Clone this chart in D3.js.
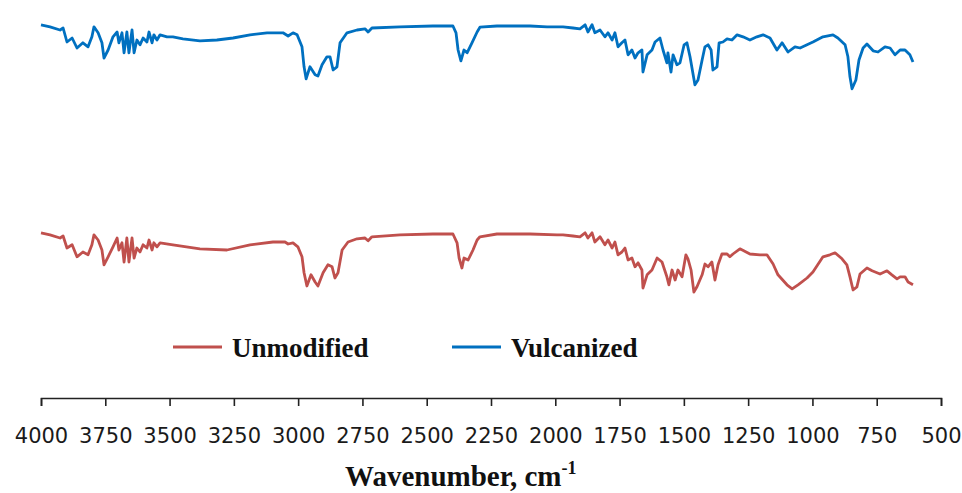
<!DOCTYPE html>
<html>
<head>
<meta charset="utf-8">
<script src="https://cdn.jsdelivr.net/npm/d3@7"></script>
<style>
  body { margin: 0; background: #fff; }
  svg { display: block; }
</style>
</head>
<body>
<div id="chart"></div>
<script>
// FTIR spectra, wavenumber (cm-1) vs transmittance (arbitrary units, offset)
var tickValues = [4000, 3750, 3500, 3250, 3000, 2750, 2500, 2250, 2000, 1750, 1500, 1250, 1000, 750, 500];
var seriesNames = ["Unmodified", "Vulcanized"];
var seriesColors = ["#c0504d", "#0070c0"];

var vulcanized = [
  [4000,93.8],[3965,93.3],[3926,92.5],[3914,93],[3899,89.5],[3879,90.5],[3860,88],[3837,89.3],[3817,88.3],
  [3802,90.8],[3794,93.3],[3778,91.8],[3763,89.3],[3755,85.5],[3739,87.5],[3720,90.8],[3704,92],[3697,89.3],
  [3685,91.8],[3677,86.8],[3666,92],[3658,86.8],[3646,92.5],[3638,86.8],[3627,90],[3615,88.8],[3603,90.5],
  [3588,89.5],[3580,92],[3568,89.3],[3561,91.3],[3549,90],[3537,91.3],[3510,90.8],[3487,90.8],[3448,90.3],
  [3382,89.8],[3316,90],[3253,90.5],[3187,91.3],[3121,91.8],[3059,91.8],[3039,91],[3020,91.8],[3004,91.3],
  [2985,88.3],[2977,83.3],[2969,80.3],[2954,83.3],[2934,81.3],[2923,81],[2907,83.8],[2888,85.8],[2876,85.8],
  [2864,82.5],[2849,83.3],[2837,89.3],[2810,91.8],[2771,92.5],[2740,92.8],[2728,92],[2713,93],[2604,93.3],
  [2476,93.5],[2398,93.5],[2386,91.8],[2378,87.5],[2367,84.8],[2355,87.5],[2343,86.8],[2324,89.3],[2304,92],
  [2293,93.2],[2227,93.5],[2098,93.5],[2032,93.3],[1970,93.3],[1931,93],[1904,92.8],[1884,93.8],[1873,92],
  [1857,93.8],[1846,91.8],[1826,92.5],[1807,90.8],[1795,91.8],[1779,90],[1768,91.8],[1756,88.3],[1741,89.3],
  [1729,90],[1717,86.3],[1702,87.5],[1690,85.5],[1678,86.8],[1663,87.5],[1659,82],[1643,86.3],[1624,87.5],
  [1612,89.5],[1593,90.5],[1581,87.5],[1566,84.3],[1562,86.8],[1550,82],[1542,86.3],[1527,83.8],[1515,84.3],
  [1499,88.8],[1488,89.3],[1476,85.8],[1457,78.8],[1445,80],[1429,85],[1418,88.3],[1406,88.8],[1394,87.5],
  [1387,82.5],[1371,83.3],[1363,89.3],[1348,89.5],[1332,90.3],[1313,90],[1293,91.3],[1270,90.8],[1243,90],
  [1216,90.8],[1192,91.3],[1165,90.5],[1138,87.5],[1118,89.3],[1095,87],[1068,88.3],[1048,88],[1021,88.8],
  [998,89.5],[959,90.8],[920,91.3],[901,90.5],[873,88.8],[862,85.8],[854,80.8],[846,77.8],[831,80],[819,85],
  [803,88],[788,89],[764,87.3],[745,87],[718,88.3],[698,88],[679,86.3],[659,87.5],[640,87.5],[621,86.3],[609,84.5]
];

var unmodified = [
  [4000,41.8],[3965,41.3],[3926,40.5],[3914,41],[3899,38],[3879,38.8],[3860,35.8],[3837,37],[3817,36.3],
  [3802,38.8],[3794,41.3],[3778,40],[3763,37.5],[3755,33.8],[3739,35.8],[3720,38.3],[3704,40.5],[3697,37.5],
  [3685,39.3],[3677,34.5],[3666,40.5],[3658,34.5],[3646,40.5],[3638,35.5],[3627,38],[3615,37],[3603,38.8],
  [3588,38],[3580,40],[3568,37.5],[3561,39.3],[3549,38.3],[3537,39.3],[3487,38.8],[3382,37.8],[3277,37.5],
  [3187,38.8],[3098,39.5],[3051,39.5],[3039,39],[3020,39.3],[3001,38.3],[2985,35.8],[2977,31.8],[2966,28.5],
  [2950,31.3],[2934,29.5],[2923,28.5],[2903,31.8],[2884,33.8],[2868,33.3],[2857,30.5],[2845,31.8],[2829,37.5],
  [2806,39.5],[2771,40.3],[2740,40.5],[2728,39.8],[2713,40.8],[2604,41.3],[2476,41.5],[2398,41.5],[2382,39.3],
  [2374,35.5],[2363,33],[2355,35.5],[2339,35],[2320,37.5],[2304,40],[2293,40.8],[2227,41.5],[2098,41.5],
  [1993,41.3],[1970,41.3],[1931,41],[1904,40.8],[1884,41.8],[1873,40.5],[1857,41.8],[1846,39.5],[1826,40.8],
  [1807,38.8],[1795,40],[1779,38],[1768,39.5],[1756,36.3],[1741,37],[1729,38],[1717,35],[1702,35.5],
  [1690,33.3],[1678,34.3],[1663,32.5],[1659,28],[1643,31.3],[1624,32.5],[1604,35.5],[1585,34.5],[1566,30.8],
  [1558,28.8],[1546,32.5],[1534,30],[1523,32.5],[1507,30.8],[1492,36.3],[1484,35.3],[1472,32.5],[1461,27],
  [1449,28.3],[1429,31.3],[1418,34],[1406,33.3],[1391,34.5],[1379,30],[1367,33.8],[1352,36.5],[1332,36.5],
  [1321,35.8],[1309,36.5],[1282,37.8],[1243,36.5],[1204,36.3],[1177,36.3],[1153,34],[1134,31.3],[1099,28.8],
  [1079,27.8],[1056,28.8],[1021,30.5],[998,32],[959,35.8],[932,36.3],[912,36.8],[885,35.3],[866,33.8],
  [854,30.8],[842,27.5],[827,28.3],[815,31.5],[788,33],[768,32.3],[737,31.5],[710,32.3],[691,31.3],[671,30.3],
  [659,30.8],[640,30.8],[628,29.5],[609,28.8]
];

var width = 962, height = 493;

var svg = d3.select("#chart")
    .append("svg")
    .attr("width", width)
    .attr("height", height);

var xScale = d3.scaleLinear()
    .domain([4000, 500])
    .range([41, 941]);

var yScale = d3.scaleLinear()
    .domain([0, 100])
    .range([400, 0]);

var line = d3.line()
    .x(function(d){ return xScale(d[0]); })
    .y(function(d){ return yScale(d[1]); });

var xAxis = d3.axisBottom(xScale)
    .tickValues(tickValues)
    .tickSize(8)
    .tickSizeOuter(8)
    .tickPadding(22)
    .tickFormat(d3.format("d"));

var gx = svg.append("g")
    .attr("transform", "translate(0,398)")
    .call(xAxis);
gx.selectAll("path, line")
    .attr("stroke", "#222")
    .attr("stroke-width", 1.6);
gx.selectAll("text")
    .attr("fill", "#1a1a1a")
    .style("font-family", "DejaVu Sans, Verdana, sans-serif")
    .style("font-size", "21px");

// spectra
[unmodified, vulcanized].forEach(function(data, i){
  svg.append("path")
      .datum(data)
      .attr("fill", "none")
      .attr("stroke", seriesColors[i])
      .attr("stroke-width", 2.8)
      .attr("stroke-linejoin", "round")
      .attr("d", line);
});

// legend
var legendX = [173, 452];
var legend = svg.append("g");
seriesNames.forEach(function(name, i){
  legend.append("line")
      .attr("x1", legendX[i]).attr("x2", legendX[i] + 49)
      .attr("y1", 347).attr("y2", 347)
      .attr("stroke", seriesColors[i])
      .attr("stroke-width", 3.2);
  legend.append("text")
      .attr("x", legendX[i] + 59)
      .attr("y", 357)
      .attr("fill", "#111")
      .style("font-family", "Liberation Serif, Times New Roman, serif")
      .style("font-weight", "bold")
      .style("font-size", "27px")
      .text(name);
});

// axis title
var title = svg.append("text")
    .attr("x", 345)
    .attr("y", 486)
    .attr("fill", "#111")
    .style("font-family", "Liberation Serif, Times New Roman, serif")
    .style("font-weight", "bold")
    .style("font-size", "29px");
title.append("tspan").text("Wavenumber, cm");
title.append("tspan")
    .attr("dy", -12)
    .style("font-size", "18px")
    .text("-1");
</script>
</body>
</html>
